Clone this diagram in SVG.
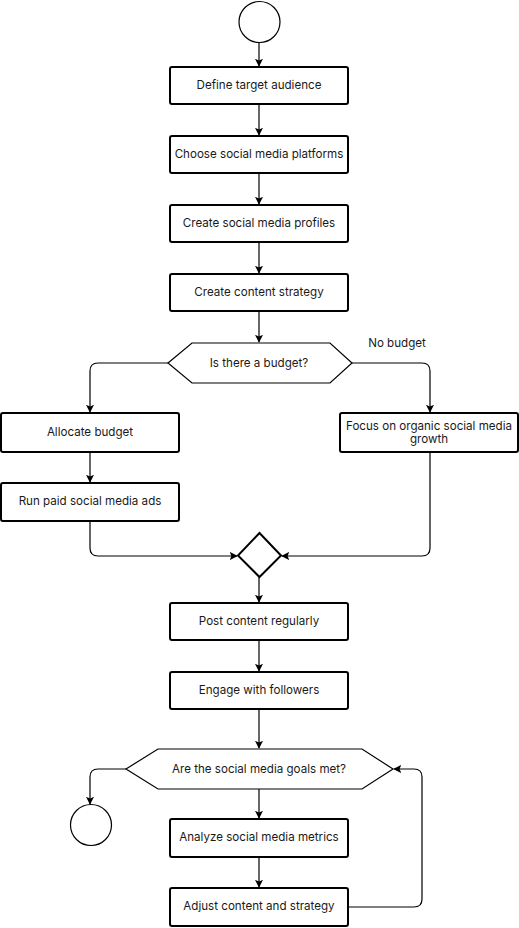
<svg xmlns="http://www.w3.org/2000/svg" width="519" height="928" viewBox="0 0 519 928">
  <style>
    .box { fill: #ffffff; stroke: #000000; stroke-width: 2; }
    .hex { fill: #ffffff; stroke: #000000; stroke-width: 1.2; }
    .term { fill: #ffffff; stroke: #000000; stroke-width: 1.2; }
    .merge { fill: #ffffff; stroke: #000000; stroke-width: 2; }
    .label { font-family: Inter, "Open Sans", "Liberation Sans", sans-serif; font-size: 11.6px; fill: #1a1a1a; text-anchor: middle; }
    .edge { fill: none; stroke: #000000; stroke-width: 1.2; marker-end: url(#arrow); }
  </style>
  <defs>
    <marker id="arrow" viewBox="0 0 10 10" refX="9" refY="5" markerWidth="8" markerHeight="8" markerUnits="userSpaceOnUse" orient="auto">
      <path d="M0,0 L10,5 L0,10 L2,5 Z" fill="#000000"/>
    </marker>
  </defs>
  <rect width="519" height="928" fill="#ffffff"/>

  <g id="connectors">
    <path class="edge" d="M259,42 V66"/>
    <path class="edge" d="M259,104 V135"/>
    <path class="edge" d="M259,173 V204"/>
    <path class="edge" d="M259,242 V273"/>
    <path class="edge" d="M259,311 V342"/>
    <path class="edge" d="M168,363 H98 Q90,363 90,371 V412"/>
    <path class="edge" d="M352,363 H422 Q430,363 430,371 V412"/>
    <path class="edge" d="M90,452 V482"/>
    <path class="edge" d="M90,521 V548 Q90,556 98,556 H237"/>
    <path class="edge" d="M430,452 V548 Q430,556 422,556 H282"/>
    <path class="edge" d="M259,577 V602"/>
    <path class="edge" d="M259,640 V671"/>
    <path class="edge" d="M259,709 V748"/>
    <path class="edge" d="M126,769 H98 Q90,769 90,777 V804"/>
    <path class="edge" d="M259,789 V818"/>
    <path class="edge" d="M259,857 V887"/>
    <path class="edge" d="M348,907 H414 Q422,907 422,899 V777 Q422,769 414,769 H394"/>
    <text class="label" x="397" y="347">No budget</text>
  </g>

  <g id="start">
    <circle class="term" cx="259.5" cy="22" r="20.5"/>
  </g>

  <g id="define-audience">
    <rect class="box" x="170" y="67" width="178" height="37" rx="2"/>
    <text class="label" x="259" y="89">Define target audience</text>
  </g>

  <g id="choose-platforms">
    <rect class="box" x="170" y="136" width="178" height="37" rx="2"/>
    <text class="label" x="259" y="158">Choose social media platforms</text>
  </g>

  <g id="create-profiles">
    <rect class="box" x="170" y="205" width="178" height="37" rx="2"/>
    <text class="label" x="259" y="227">Create social media profiles</text>
  </g>

  <g id="content-strategy">
    <rect class="box" x="170" y="274" width="178" height="37" rx="2"/>
    <text class="label" x="259" y="296">Create content strategy</text>
  </g>

  <g id="budget-decision">
    <polygon class="hex" points="168,363 192,343 330,343 352,363 330,383 192,383"/>
    <text class="label" x="259" y="367">Is there a budget?</text>
  </g>

  <g id="allocate-budget">
    <rect class="box" x="1" y="413" width="178" height="39" rx="2"/>
    <text class="label" x="90" y="436">Allocate budget</text>
  </g>

  <g id="paid-ads">
    <rect class="box" x="1" y="483" width="178" height="38" rx="2"/>
    <text class="label" x="90" y="505">Run paid social media ads</text>
  </g>

  <g id="organic-growth">
    <rect class="box" x="340" y="413" width="178" height="39" rx="2"/>
    <text class="label" x="429" y="430">Focus on organic social media</text>
    <text class="label" x="429" y="443">growth</text>
  </g>

  <g id="merge">
    <polygon class="merge" points="259.5,533 281,555.5 259.5,577 238,555.5"/>
  </g>

  <g id="post-content">
    <rect class="box" x="170" y="603" width="178" height="37" rx="2"/>
    <text class="label" x="259" y="625">Post content regularly</text>
  </g>

  <g id="engage-followers">
    <rect class="box" x="170" y="672" width="178" height="37" rx="2"/>
    <text class="label" x="259" y="694">Engage with followers</text>
  </g>

  <g id="goals-decision">
    <polygon class="hex" points="126,769 158,749 362,749 393,769 362,789 158,789"/>
    <text class="label" x="259" y="773">Are the social media goals met?</text>
  </g>

  <g id="end">
    <circle class="term" cx="91" cy="825" r="20.5"/>
  </g>

  <g id="analyze-metrics">
    <rect class="box" x="170" y="819" width="178" height="38" rx="2"/>
    <text class="label" x="259" y="841">Analyze social media metrics</text>
  </g>

  <g id="adjust-strategy">
    <rect class="box" x="170" y="888" width="178" height="38" rx="2"/>
    <text class="label" x="259" y="910">Adjust content and strategy</text>
  </g>
</svg>
